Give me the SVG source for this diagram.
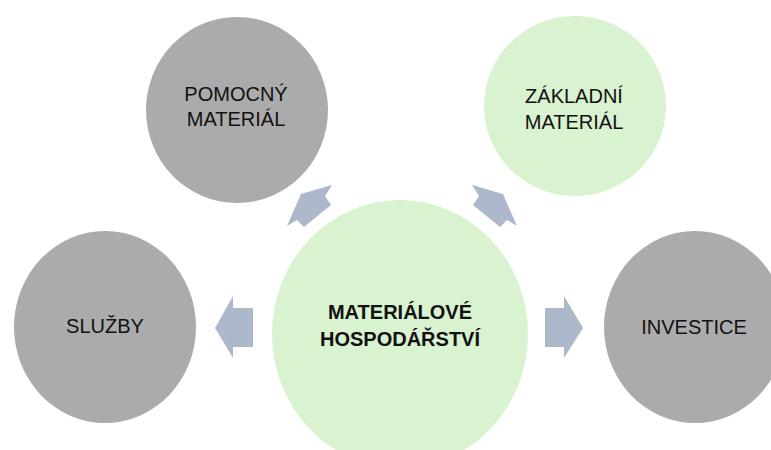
<svg xmlns="http://www.w3.org/2000/svg" width="771" height="450" viewBox="0 0 771 450">
<style>
.gray{fill:#ababab}
.green{fill:#d9f2d0}
.arrow{fill:#adb9ca}
text{font-family:"Liberation Sans",Arial,sans-serif;font-size:20px;fill:#111;text-anchor:middle}
.b{font-weight:bold}
</style>
<rect width="771" height="450" fill="#ffffff"/>
<g id="connectors">
<polygon class="arrow" points="215,328 233,296 233,308 253,308 253,347 233,347 233,358"/>
<polygon class="arrow" points="583,328 564,296 564,308 545,308 545,347 564,347 564,358"/>
<polygon class="arrow" points="301,194 332,185 325,196 331,205 304,227 297,220 287,226"/>
<polygon class="arrow" points="503,194 472,185 479,196 473,205 500,227 507,220 517,226"/>
</g>
<g id="pomocny">
<ellipse class="gray" cx="237" cy="110" rx="91" ry="93"/>
<text x="236" y="101">POMOCNÝ</text>
<text x="236" y="126">MATERIÁL</text>
</g>
<g id="zakladni">
<ellipse class="green" cx="575" cy="106" rx="91" ry="90"/>
<text x="574" y="103">ZÁKLADNÍ</text>
<text x="574" y="129">MATERIÁL</text>
</g>
<g id="sluzby">
<ellipse class="gray" cx="105" cy="327" rx="91" ry="96"/>
<text x="105" y="333">SLUŽBY</text>
</g>
<g id="investice">
<ellipse class="gray" cx="695" cy="327" rx="91" ry="96"/>
<text x="694" y="334">INVESTICE</text>
</g>
<g id="hospodarstvi">
<ellipse class="green" cx="400" cy="334" rx="128" ry="134"/>
<text class="b" x="400" y="319">MATERIÁLOVÉ</text>
<text class="b" x="400" y="346">HOSPODÁŘSTVÍ</text>
</g>
</svg>
